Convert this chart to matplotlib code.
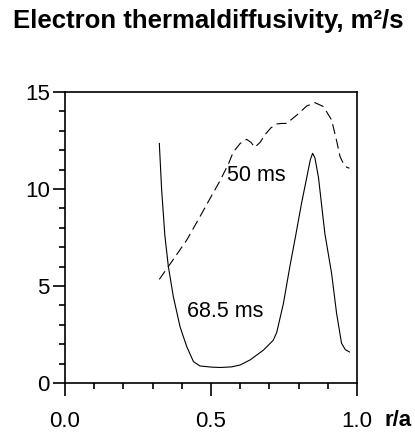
"""
Electron thermal diffusivity profiles at two times
"""

import numpy as np
import matplotlib
matplotlib.use("Agg")
import matplotlib.pyplot as plt
from matplotlib.ticker import MultipleLocator

plt.rcParams["font.family"] = ["Liberation Sans", "DejaVu Sans"]

# 68.5 ms profile (solid)
r_685 = [0.323, 0.331, 0.342, 0.354, 0.371, 0.394, 0.417, 0.44, 0.462, 0.50,
         0.531, 0.57, 0.60, 0.634, 0.68, 0.713, 0.725, 0.748, 0.77, 0.79,
         0.81, 0.828, 0.840, 0.848, 0.856, 0.868, 0.89, 0.913, 0.93, 0.947,
         0.96, 0.974]
chi_685 = [12.35, 9.95, 7.6, 6.0, 4.45, 2.9, 1.87, 1.1, 0.88, 0.82,
           0.8, 0.83, 0.93, 1.19, 1.7, 2.2, 2.6, 4.1, 6.0, 7.6,
           9.26, 10.6, 11.5, 11.84, 11.6, 10.6, 7.7, 5.65, 3.6, 2.05,
           1.72, 1.6]

# 50 ms profile (dashed)
r_50 = [0.323, 0.37, 0.417, 0.462, 0.50, 0.53, 0.56, 0.576, 0.60, 0.622,
        0.637, 0.65, 0.668, 0.685, 0.705, 0.725, 0.742, 0.759, 0.793, 0.828,
        0.856, 0.885, 0.913, 0.93, 0.942, 0.953, 0.965, 0.974]
chi_50 = [5.34, 6.35, 7.37, 8.57, 9.6, 10.4, 11.3, 11.9, 12.35, 12.56,
          12.4, 12.15, 12.4, 12.8, 13.15, 13.35, 13.38, 13.38, 13.8, 14.28,
          14.45, 14.25, 13.56, 12.5, 11.67, 11.32, 11.12, 11.07]

x_ticks = [0.0, 0.5, 1.0]
x_tick_labels = ["0.0", "0.5", "1.0"]
y_ticks = [0, 5, 10, 15]

fig = plt.figure(figsize=(4.15, 4.32), dpi=100)
ax = fig.add_axes([65 / 415, 1 - 383 / 432, 292 / 415, 291 / 432])

ax.plot(r_685, chi_685, "k-", linewidth=0.8)
ax.plot(r_50, chi_50, "k-", linewidth=0.8, dashes=(9, 4.5))

ax.text(0.556, 10.7, "50 ms", fontsize=15.5, va="center", ha="left")
ax.text(0.419, 3.66, "68.5 ms", fontsize=15.5, va="center", ha="left")

ax.set_xlim(0, 1)
ax.set_ylim(0, 15)
ax.set_xticks(x_ticks)
ax.set_xticklabels(x_tick_labels)
ax.set_yticks(y_ticks)
ax.xaxis.set_minor_locator(MultipleLocator(0.1))
ax.yaxis.set_minor_locator(MultipleLocator(1))
ax.tick_params(which="major", direction="out", length=9, width=1.2,
               labelsize=16, color="k")
ax.tick_params(axis="x", which="major", pad=11)
ax.tick_params(axis="y", which="major", pad=2)
ax.tick_params(which="minor", direction="out", length=4.5, width=1.2)
for s in ax.spines.values():
    s.set_linewidth(1.2)

fig.text(13 / 415, 1 - 28 / 432, "Electron thermaldiffusivity, m\u00b2/s",
         fontsize=18.5, fontweight="bold", va="baseline", ha="left")
fig.text(384 / 415, 1 - 420 / 432, "r/a", fontsize=16, fontweight="bold",
         va="center", ha="left")

fig.savefig("out.png", dpi=100)
